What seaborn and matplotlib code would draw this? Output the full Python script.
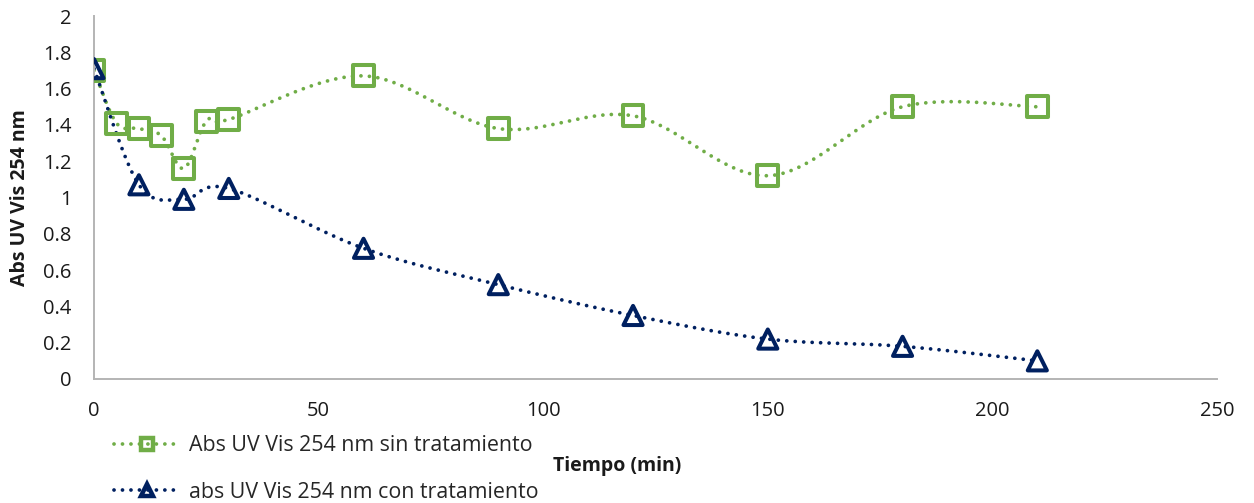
import numpy as np
import pandas as pd
import matplotlib
matplotlib.use("Agg")
import matplotlib.pyplot as plt
import seaborn as sns
from matplotlib.lines import Line2D
from matplotlib.ticker import FuncFormatter, MultipleLocator

# Absorbance at 254 nm over time, untreated vs treated
tiempo_sin = [0, 5, 10, 15, 20, 25, 30, 60, 90, 120, 150, 180, 210]
abs_sin = [1.70, 1.41, 1.38, 1.34, 1.16, 1.42, 1.43, 1.67, 1.38, 1.45, 1.12, 1.50, 1.50]

tiempo_con = [0, 10, 20, 30, 60, 90, 120, 150, 180, 210]
abs_con = [1.71, 1.07, 0.99, 1.05, 0.72, 0.52, 0.35, 0.22, 0.18, 0.10]

label_sin = "Abs UV Vis 254 nm sin tratamiento"
label_con = "abs UV Vis 254 nm con tratamiento"
x_label = "Tiempo (min)"
y_label = "Abs UV Vis 254 nm"
x_ticks = [0, 50, 100, 150, 200, 250]

GREEN = "#70AD47"
NAVY = "#002060"


def smooth_curve(x, y, n=40):
    """Cubic Bezier smoothing through every point (Catmull-Rom style tangents)."""
    p = np.column_stack([x, y]).astype(float)
    ext = np.vstack([p[0], p, p[-1]])
    t = np.linspace(0, 1, n)[:, None]
    segs = []
    for i in range(len(p) - 1):
        p0, p1, p2, p3 = ext[i], ext[i + 1], ext[i + 2], ext[i + 3]
        b1 = p1 + (p2 - p0) / 6.0
        b2 = p2 - (p3 - p1) / 6.0
        seg = ((1 - t) ** 3) * p1 + 3 * ((1 - t) ** 2) * t * b1 \
            + 3 * (1 - t) * (t ** 2) * b2 + (t ** 3) * p2
        segs.append(seg if i == 0 else seg[1:])
    c = np.vstack(segs)
    return c[:, 0], c[:, 1]


sns.set_style("white")
plt.rcParams["font.family"] = ["Open Sans", "DejaVu Sans"]

fig = plt.figure(figsize=(12.54, 5.03), dpi=100)
ax = fig.add_axes([94 / 1254, 1 - 379 / 503, (1217 - 94) / 1254, (379 - 16) / 503])

dot_style = dict(linestyle=(0, (0.01, 2.25)), dash_capstyle="round", linewidth=2.7)

sx, sy = smooth_curve(tiempo_sin, abs_sin)
cx, cy = smooth_curve(tiempo_con, abs_con)
curves = pd.DataFrame({"t": np.r_[sx, cx], "a": np.r_[sy, cy],
                       "serie": [label_sin] * len(sx) + [label_con] * len(cx)})

sns.lineplot(data=curves[curves.serie == label_sin], x="t", y="a", sort=False,
             estimator=None, errorbar=None, color=GREEN, ax=ax, legend=False, **dot_style)
sns.lineplot(data=curves[curves.serie == label_con], x="t", y="a", sort=False,
             estimator=None, errorbar=None, color=NAVY, ax=ax, legend=False, **dot_style)

sns.scatterplot(x=tiempo_sin, y=abs_sin, marker="s", s=225, facecolor="none",
                edgecolor=GREEN, linewidth=2.9, ax=ax, zorder=4, legend=False)
sns.scatterplot(x=tiempo_con, y=abs_con, marker="^", s=190, facecolor="none",
                edgecolor=NAVY, linewidth=2.9, ax=ax, zorder=5, legend=False)

ax.set_xlim(0, 250)
ax.set_ylim(0, 2)
ax.set_xticks(x_ticks)
ax.yaxis.set_major_locator(MultipleLocator(0.2))
ax.yaxis.set_major_formatter(FuncFormatter(lambda v, _: f"{v:g}"))

for side in ("top", "right"):
    ax.spines[side].set_visible(False)
for side in ("left", "bottom"):
    ax.spines[side].set_color("#B4B4B4")
    ax.spines[side].set_linewidth(1.4)

ax.tick_params(axis="both", length=0, labelsize=14.5, labelcolor="#1a1a1a")
ax.tick_params(axis="y", pad=16)
ax.tick_params(axis="x", pad=16)

ax.set_xlabel(x_label, fontsize=14, fontweight="bold", color="#1a1a1a")
ax.set_ylabel(y_label, fontsize=14, fontweight="bold", color="#1a1a1a")
ax.xaxis.set_label_coords((617 - 94) / (1217 - 94), (379 - 466) / 363)
ax.yaxis.set_label_coords((20 - 94) / (1217 - 94), 0.5)
ax.xaxis.label.set_va("center")
ax.yaxis.label.set_va("center")

handles = [
    Line2D([], [], color=GREEN, marker="s", markersize=9, markerfacecolor="none",
           markeredgewidth=3.2, **dot_style),
    Line2D([], [], color=NAVY, marker="^", markersize=9, markerfacecolor="none",
           markeredgewidth=3.2, **dot_style),
]
fig.legend(handles, [label_sin, label_con], loc="upper left",
           bbox_to_anchor=(114 / 1254, 1 - 435 / 503), frameon=False,
           fontsize=15.4, handlelength=3.05, handletextpad=0.47, labelspacing=1.2,
           borderpad=0, borderaxespad=0)

fig.savefig("out.png", dpi=100)
